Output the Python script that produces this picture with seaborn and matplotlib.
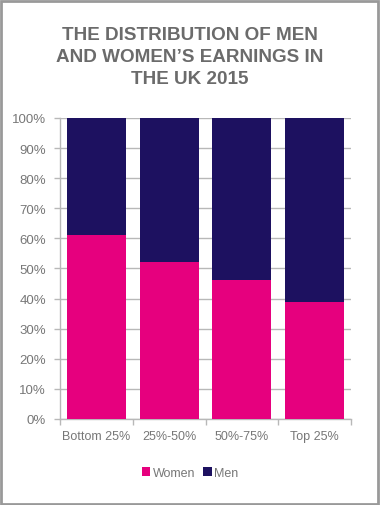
import matplotlib
matplotlib.use("Agg")
import matplotlib.pyplot as plt
import seaborn as sns
import pandas as pd
from matplotlib.patches import Rectangle, Patch

categories = ["Bottom 25%", "25%-50%", "50%-75%", "Top 25%"]
women = [61, 52, 46, 39]
men = [39, 48, 54, 61]
yticks = [0, 10, 20, 30, 40, 50, 60, 70, 80, 90, 100]
ytick_labels = [f"{v}%" for v in yticks]

PINK = "#E6007E"
NAVY = "#1D1160"
GRAY_TXT = "#6b6b6b"
TICK_TXT = "#777777"

sns.set_theme(style="white")
plt.rcParams["font.family"] = ["Liberation Sans", "DejaVu Sans"]

df = pd.DataFrame({"cat": categories, "women": women, "men": men})
df["total"] = df["women"] + df["men"]

fig = plt.figure(figsize=(3.8, 5.06), dpi=100)
ax = fig.add_axes([0.158, 0.170, 0.766, 0.595])

for v in yticks:
    ax.axhline(v, color="#b8b8b8", lw=1.0, zorder=0)

sns.barplot(data=df, x="cat", y="total", color=NAVY, width=0.81, ax=ax,
            saturation=1, zorder=2, linewidth=0)
sns.barplot(data=df, x="cat", y="women", color=PINK, width=0.81, ax=ax,
            saturation=1, zorder=3, linewidth=0)

ax.set_ylim(0, 100)
ax.set_xlim(-0.5, 3.5)
ax.set_yticks(yticks)
ax.set_yticklabels(ytick_labels)
ax.set_xlabel("")
ax.set_ylabel("")
ax.set_xticks(range(len(categories)))
ax.set_xticklabels(categories)
ax.tick_params(axis="x", length=0, pad=8, labelsize=9, labelcolor=TICK_TXT)
ax.tick_params(axis="y", length=4, width=1, color="#b8b8b8", pad=6,
               labelsize=9.5, labelcolor=TICK_TXT, left=True)
ax.set_xticks([-0.5, 0.5, 1.5, 2.5, 3.5], minor=True)
ax.tick_params(axis="x", which="minor", length=4, width=1, color="#b8b8b8", bottom=True)

for s in ["top", "right"]:
    ax.spines[s].set_visible(False)
for s in ["left", "bottom"]:
    ax.spines[s].set_color("#b8b8b8")
    ax.spines[s].set_linewidth(1)

fig.text(0.5, 0.887, "THE DISTRIBUTION OF MEN\nAND WOMEN\u2019S EARNINGS IN\nTHE UK 2015",
         ha="center", va="center", fontsize=13.6, fontweight="bold",
         color=GRAY_TXT, linespacing=1.38)

handles = [Patch(facecolor=PINK, edgecolor="none", label="Women"),
           Patch(facecolor=NAVY, edgecolor="none", label="Men")]
fig.legend(handles=handles, loc="center", bbox_to_anchor=(0.5, 0.063), ncol=2,
           frameon=False, fontsize=9, labelcolor=TICK_TXT, handlelength=0.7,
           handleheight=0.7, handletextpad=0.2, columnspacing=0.6)

fig.patches.append(Rectangle((0.003, 0.002), 0.992, 0.995, transform=fig.transFigure,
                             fill=False, edgecolor="#999999", lw=2))

fig.savefig("out.png", dpi=100)
